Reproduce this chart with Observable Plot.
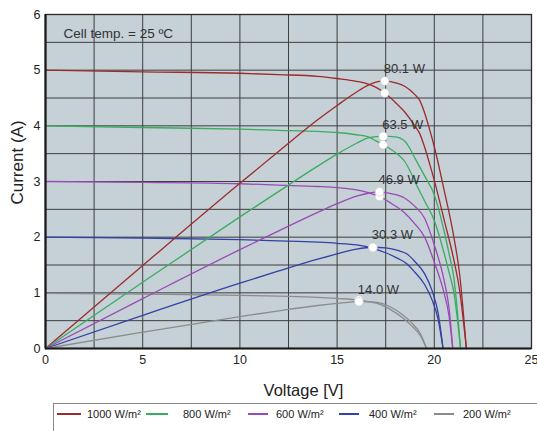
<!DOCTYPE html>
<html>
<head>
<meta charset="utf-8">
<script src="https://cdn.jsdelivr.net/npm/d3@7"></script>
<script src="https://cdn.jsdelivr.net/npm/@observablehq/plot@0.6"></script>
<style>
  html, body { margin: 0; padding: 0; background: #ffffff; }
  #wrap { position: relative; width: 537px; height: 431px; overflow: hidden; font-family: "Liberation Sans", Arial, sans-serif; }
  #legend { position: absolute; left: 53px; top: 403px; width: 500px; height: 30px; border: 1px solid #8a8a8a; box-sizing: border-box; background: #fff; }
  .sw { position: absolute; top: 9px; height: 1.5px; }
  .lt { position: absolute; top: 2px; font-size: 11px; color: #222; line-height: 16px; white-space: nowrap; }
</style>
</head>
<body>
<div id="wrap"><div id="chart"></div><div id="legend"></div></div>
<script>
// ---- data ----
const series = ["1000 W/m²", "800 W/m²", "600 W/m²", "400 W/m²", "200 W/m²"];
const colors = ["#9e2b2c", "#3aad5f", "#9a4bb6", "#3441a5", "#8c8c8c"];

const volts1000 = [0, 5, 10, 12, 14, 15, 16, 16.6, 17, 17.45, 18, 18.5, 19, 19.25, 19.5, 19.75, 20, 20.5, 21, 21.3, 21.65];
const amps1000  = [5.00, 4.97, 4.945, 4.92, 4.89, 4.85, 4.80, 4.75, 4.69, 4.59, 4.42, 4.24, 4.00, 3.86, 3.62, 3.33, 3.02, 2.32, 1.60, 1.05, 0];
const watts1000 = [0, 24.85, 49.45, 59.04, 68.46, 72.75, 76.8, 78.85, 79.73, 80.1, 79.56, 78.44, 76.0, 74.3, 70.59, 65.77, 60.4, 47.56, 33.6, 22.37, 0];

const volts800 = [0, 5, 10, 12, 14, 15, 16, 16.6, 17, 17.37, 18, 18.5, 18.75, 19, 19.5, 20, 20.5, 20.75, 21, 21.35];
const amps800  = [4.00, 3.97, 3.94, 3.92, 3.90, 3.88, 3.84, 3.80, 3.73, 3.66, 3.52, 3.35, 3.19, 3.00, 2.65, 2.30, 1.72, 1.38, 1.02, 0];
const watts800 = [0, 19.85, 39.4, 47.04, 54.6, 58.2, 61.44, 63.08, 63.41, 63.57, 63.36, 61.98, 59.81, 57.0, 51.68, 46.0, 35.26, 28.64, 21.42, 0];

const volts600 = [0, 5, 10, 12, 14, 15, 16, 16.6, 17.18, 17.77, 18.47, 19, 19.5, 20, 20.5, 20.75, 20.95];
const amps600  = [3.00, 2.985, 2.96, 2.935, 2.91, 2.89, 2.85, 2.80, 2.73, 2.61, 2.44, 2.24, 2.00, 1.55, 1.00, 0.60, 0];
const watts600 = [0, 14.93, 29.6, 35.22, 40.74, 43.35, 45.6, 46.48, 46.9, 46.38, 45.07, 42.56, 39.0, 31.0, 20.5, 12.45, 0];

const volts400 = [0, 5, 10, 12, 14, 15, 16, 16.84, 17.5, 18.12, 18.6, 19, 19.5, 19.9, 20.2, 20.45];
const amps400  = [2.00, 1.985, 1.955, 1.935, 1.91, 1.89, 1.86, 1.80, 1.72, 1.62, 1.52, 1.37, 1.15, 0.86, 0.52, 0];
const watts400 = [0, 9.93, 19.55, 23.22, 26.74, 28.35, 29.76, 30.31, 30.1, 29.35, 28.27, 26.03, 22.43, 17.11, 10.5, 0];

const volts200 = [0, 5, 10, 12, 14, 15, 16.12, 16.8, 17.3, 17.8, 18.3, 18.8, 19.3, 19.6];
const amps200  = [0.99, 0.975, 0.955, 0.94, 0.92, 0.90, 0.87, 0.83, 0.78, 0.69, 0.57, 0.42, 0.22, 0];
const watts200 = [0, 4.88, 9.55, 11.28, 12.88, 13.5, 14.02, 13.94, 13.49, 12.28, 10.43, 7.9, 4.25, 0];

// maximum power points
const mppVolts = [17.45, 17.37, 17.18, 16.84, 16.12];
const mppAmps  = [4.59, 3.66, 2.73, 1.80, 0.87];
const mppWatts = [80.1, 63.5, 46.9, 30.3, 14.0];

// axis ticks and grid
const xTicks = [0, 5, 10, 15, 20, 25];
const yTicks = [0, 1, 2, 3, 4, 5, 6];
const xGrid = [2.5, 5, 7.5, 10, 12.5, 15, 17.5, 20, 22.5];
const yGrid = [0.5, 1, 1.5, 2, 2.5, 3, 3.5, 4, 4.5, 5, 5.5];

// power drawn on the current axis: 100 W corresponds to 6 A
const AXIS_PER_WATT = 6 / 100;

// ---- build tables ----
const curves = [
  [volts1000, amps1000, watts1000],
  [volts800, amps800, watts800],
  [volts600, amps600, watts600],
  [volts400, amps400, watts400],
  [volts200, amps200, watts200]
];
const rows = [];
curves.forEach(([v, a, w], k) => {
  v.forEach((vv, j) => rows.push({series: series[k], v: vv, i: a[j], w: w[j]}));
});
const mpp = series.map((s, k) => ({series: s, v: mppVolts[k], i: mppAmps[k], w: mppWatts[k]}));

const font = '"Liberation Sans", Arial, sans-serif';

const chart = Plot.plot({
  width: 537,
  height: 400,
  marginLeft: 45,
  marginRight: 6,
  marginTop: 14,
  marginBottom: 52,
  style: {fontFamily: font, fontSize: "12.5px", color: "#222", background: "#ffffff"},
  x: {domain: [0, 25], ticks: xTicks, tickFormat: d => String(d), tickSize: 0, tickPadding: 7, label: null},
  y: {domain: [0, 6], ticks: yTicks, tickFormat: d => String(d), tickSize: 0, tickPadding: 5, label: null},
  color: {domain: series, range: colors},
  marks: [
    Plot.frame({fill: "#c5d0d7", stroke: null}),
    Plot.ruleX(xGrid, {stroke: "#3e3e3e", strokeWidth: 1}),
    Plot.ruleY(yGrid, {stroke: "#3e3e3e", strokeWidth: 1}),
    Plot.line(rows, {x: "v", y: "i", z: "series", stroke: "series", strokeWidth: 1.3, curve: "monotone-x"}),
    Plot.line(rows, {x: "v", y: d => d.w * AXIS_PER_WATT, z: "series", stroke: "series", strokeWidth: 1.3, curve: "monotone-x"}),
    Plot.frame({stroke: "#2a2a2a", strokeWidth: 1.3}),
    Plot.ruleX([0], {stroke: "#1a1a1a", strokeWidth: 2.2}),
    Plot.ruleY([0], {stroke: "#1a1a1a", strokeWidth: 2.2}),
    Plot.dot(mpp, {x: "v", y: "i", r: 4.3, fill: "#ffffff", stroke: "#c8c8c8", strokeWidth: 0.6}),
    Plot.dot(mpp, {x: "v", y: d => d.w * AXIS_PER_WATT, r: 4.3, fill: "#ffffff", stroke: "#c8c8c8", strokeWidth: 0.6}),
    Plot.text(mpp, {
      x: "v", y: d => d.w * AXIS_PER_WATT, text: d => d.w.toFixed(1) + " W",
      textAnchor: "start", lineAnchor: "middle", dy: -12, dx: -1,
      fontSize: 13, fill: "#333"
    }),
    Plot.text(["Cell temp. = 25 ºC"], {
      frameAnchor: "top-left", textAnchor: "start", lineAnchor: "middle",
      dx: 18, dy: 19, fontSize: 13.5, fill: "#333"
    }),
    Plot.text(["Voltage [V]"], {
      frameAnchor: "bottom", textAnchor: "middle", lineAnchor: "middle",
      dx: 15, dy: 42, fontSize: 16.5, fill: "#222"
    }),
    Plot.text(["Current (A)"], {
      frameAnchor: "left", textAnchor: "middle", lineAnchor: "middle",
      rotate: -90, dx: -28, dy: -19, fontSize: 17, fill: "#222"
    })
  ]
});
document.getElementById("chart").appendChild(chart);

// legend
const legendPos = [[3, 24, 33], [92, 22, 129], [194, 20, 222], [285, 20, 315], [380, 20, 409]];
const legend = document.getElementById("legend");
series.forEach((s, k) => {
  const [sx, sw, tx] = legendPos[k];
  const line = document.createElement("div");
  line.className = "sw";
  line.style.left = sx + "px";
  line.style.width = sw + "px";
  line.style.background = colors[k];
  legend.appendChild(line);
  const t = document.createElement("div");
  t.className = "lt";
  t.style.left = tx + "px";
  t.textContent = s;
  legend.appendChild(t);
});
</script>
</body>
</html>
